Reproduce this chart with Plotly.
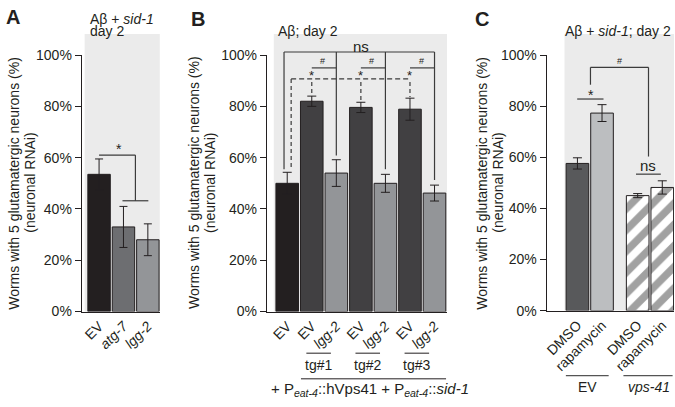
import plotly.graph_objects as go

# values: % worms with 5 glutamatergic neurons, mean and error
a_labels = ["EV", "<i>atg-7</i>", "<i>lgg-2</i>"]
a_values = [53.5, 33.0, 28.0]
a_errors = [6.0, 8.0, 6.2]

b_labels = ["EV", "EV", "<i>lgg-2</i>", "EV", "<i>lgg-2</i>", "EV", "<i>lgg-2</i>"]
b_values = [50.0, 82.0, 54.0, 79.6, 50.0, 78.9, 46.2]
b_errors = [4.3, 2.0, 5.2, 2.0, 3.5, 4.3, 3.1]
b_groups = ["tg#1", "tg#2", "tg#3"]

c_labels = ["DMSO", "rapamycin", "DMSO", "rapamycin"]
c_values = [57.6, 77.3, 45.0, 48.2]
c_errors = [2.2, 3.3, 0.8, 2.6]
c_groups = ["EV", "<i>vps-41</i>"]

y_ticks = [0, 20, 40, 60, 80, 100]
y_ticktext = ["0%", "20%", "40%", "60%", "80%", "100%"]

W, H = 675, 407
INK = "#231f20"
BG = "#ebebeb"
FONT = "Liberation Sans, Arial, sans-serif"

# bar slots on each x axis
a_pos = [0, 1, 2]
b_pos = list(range(7))
c_pos = [0, 1, 2.45, 3.45]

# panel boxes in pixels: x span, x data range, rows of 0% and 100%
geo = {
    "a": dict(x=(79, 158), r=(-0.714, 2.51), y=(316, 49)),
    "b": dict(x=(265, 446), r=(-0.831, 6.509), y=(316, 49)),
    "c": dict(x=(546, 674), r=(-1.255, 3.927), y=(315, 49)),
}


def px(p, xv):
    g = geo[p]
    f = (xv - g["r"][0]) / (g["r"][1] - g["r"][0])
    return (g["x"][0] + f * (g["x"][1] - g["x"][0])) / W


def py(p, v):
    g = geo[p]
    return 1 - (g["y"][0] + v / 100 * (g["y"][1] - g["y"][0])) / H


shapes = []
annots = []


def seg(x0, y0, x1, y1, dash=None, color="#3b3b3b", width=1.2):
    shapes.append(dict(type="line", xref="paper", yref="paper", x0=x0, y0=y0, x1=x1, y1=y1,
                       line=dict(color=color, width=width, dash=dash)))


def bracket(p, pts, dash=None):
    for (xa, va), (xb, vb) in zip(pts[:-1], pts[1:]):
        seg(px(p, xa), py(p, va), px(p, xb), py(p, vb), dash)


def text(x, y, s, size=14, xanchor="center", yanchor="middle", angle=0, bold=False):
    annots.append(dict(x=x, y=y, xref="paper", yref="paper", text=s, showarrow=False,
                       xanchor=xanchor, yanchor=yanchor, textangle=angle,
                       font=dict(size=size, color=INK, family=FONT,
                                 weight="bold" if bold else "normal")))


def pxl(x):
    return x / W


def pyl(y):
    return 1 - y / H


# gray backgrounds
for x0, x1, y1 in [(82, 157.5, 316), (272, 446, 316), (564, 674, 315)]:
    shapes.append(dict(type="rect", xref="paper", yref="paper", x0=pxl(x0), x1=pxl(x1),
                       y0=pyl(y1), y1=pyl(27), fillcolor=BG, line=dict(width=0), layer="below"))

fig = go.Figure()

err = dict(type="data", color=INK, thickness=1, width=4)

fig.add_trace(go.Bar(
    x=a_pos, y=a_values, error_y=dict(err, array=a_errors),
    marker=dict(color=["#231f20", "#6d6e71", "#939598"], line=dict(color=INK, width=1)),
    xaxis="x", yaxis="y"))

fig.add_trace(go.Bar(
    x=b_pos, y=b_values, error_y=dict(err, array=b_errors, width=4.5),
    marker=dict(color=["#231f20"] + ["#414042", "#939598"] * 3, line=dict(color=INK, width=1)),
    xaxis="x2", yaxis="y2"))

fig.add_trace(go.Bar(
    x=c_pos, y=c_values, error_y=dict(err, array=c_errors, width=4.5),
    marker=dict(color=["#58595b", "#bcbec0", "white", "white"],
                line=dict(color=INK, width=1),
                pattern=dict(shape=["", "", "/", "/"],
                             fgcolor=["#58595b", "#bcbec0", "#58595b", "#bcbec0"],
                             size=15, solidity=0.5)),
    xaxis="x3", yaxis="y3"))


def yax(p, anchor):
    g = geo[p]
    return dict(domain=[1 - g["y"][0] / H, 1 - g["y"][1] / H], range=[0, 100],
                tickvals=y_ticks, ticktext=y_ticktext, ticks="outside", ticklen=6, tickcolor=INK,
                showline=True, linecolor=INK, linewidth=1, showgrid=False, zeroline=False,
                tickfont=dict(size=14, color=INK), anchor=anchor)


def xax(p, pos, labels, anchor):
    g = geo[p]
    return dict(domain=[g["x"][0] / W, g["x"][1] / W], range=list(g["r"]),
                tickvals=pos, ticktext=labels, tickangle=-45, ticks="",
                showline=True, linecolor=INK, linewidth=1, showgrid=False, zeroline=False,
                tickfont=dict(size=14, color=INK), anchor=anchor)


# --- panel A annotations ---
bracket("a", [(0, 61), (1.49, 61), (1.49, 43.2)])
bracket("a", [(0.96, 43.2), (2.02, 43.2)])
text(px("a", 0.8), py("a", 63.5), "*", 14)

# --- panel B annotations ---
ns_y = 101.2
bracket("b", [(-0.13, 55.5), (-0.13, ns_y), (6.0, ns_y)])
for i, dy in [(2, 60.8), (4, 55.5), (6, 51.3)]:
    bracket("b", [(i, ns_y), (i, dy)])
text(px("b", 3.0), py("b", 103.5), "ns", 15)
bracket("b", [(0.16, 90.7), (5.0, 90.7)], dash="5px,3px")
bracket("b", [(0.16, 90.7), (0.16, 55.3)], dash="4px,3px")
for i in [1, 3, 5]:
    bracket("b", [(i, 95), (i + 1, 95)])
    text(px("b", i + 0.45), py("b", 97.6), "#", 9)
    text(px("b", i), py("b", 92.0), "*", 13)
    bracket("b", [(i, 89.5), (i, b_values[i] + b_errors[i] + 0.5)], dash="4px,3px")
for k, i in enumerate([1, 3, 5]):
    seg(px("b", i - 0.22), pyl(359.3), px("b", i + 0.78), pyl(359.3), color=INK, width=1)
    text(px("b", i + 0.28), pyl(371.7), b_groups[k], 14)
seg(px("b", 0.56), pyl(386), px("b", 6.47), pyl(386), color=INK, width=1)
text(px("b", 3.39), pyl(397),
     "+ P<sub><i>eat-4</i></sub>::hVps41 + P<sub><i>eat-4</i></sub>::<i>sid-1</i>", 15)

# --- panel C annotations ---
bracket("c", [(-0.01, 82.8), (1.06, 82.8)])
text(px("c", 0.55), py("c", 84.5), "*", 14)
bracket("c", [(0.53, 88.4), (0.53, 95.2), (2.89, 95.2), (2.89, 60.3)])
text(px("c", 1.71), py("c", 97.8), "#", 9)
bracket("c", [(2.38, 53.4), (3.39, 53.4)])
text(px("c", 2.88), py("c", 56.6), "ns", 15)
seg(px("c", -0.47), pyl(382.7), px("c", 1.27), pyl(382.7), color="#555555", width=1.3)
seg(px("c", 1.87), pyl(382.7), px("c", 3.87), pyl(382.7), color="#555555", width=1.3)
text(px("c", 0.39), pyl(394.5), c_groups[0], 14)
text(px("c", 2.89), pyl(394.5), c_groups[1], 14)

# --- titles, panel letters, y titles ---
text(pxl(1), pyl(9), "A", 20, xanchor="left", bold=True)
text(pxl(187), pyl(11), "B", 20, xanchor="left", bold=True)
text(pxl(472), pyl(11), "C", 20, xanchor="left", bold=True)
text(pxl(85), pyl(11), "Aβ + <i>sid-1</i>", 14, xanchor="left")
text(pxl(85), pyl(23.5), "day 2", 14, xanchor="left")
text(pxl(274), pyl(23.5), "Aβ; day 2", 14, xanchor="left")
text(pxl(563), pyl(24), "Aβ + <i>sid-1</i>; day 2", 14, xanchor="left")
for x1, x2 in [(11, 27), (192, 208), (481, 497)]:
    text(pxl(x1), pyl(182), "Worms with 5 glutamatergic neurons (%)", 14, angle=-90)
    text(pxl(x2), pyl(182), "(neuronal RNAi)", 14, angle=-90)

fig.update_layout(
    width=W, height=H, autosize=False,
    margin=dict(l=0, r=0, t=0, b=0),
    paper_bgcolor="white", plot_bgcolor="rgba(0,0,0,0)",
    showlegend=False, bargap=0.08,
    font=dict(family=FONT, color=INK),
    xaxis=xax("a", a_pos, a_labels, "y"), yaxis=yax("a", "x"),
    xaxis2=xax("b", b_pos, b_labels, "y2"), yaxis2=yax("b", "x2"),
    xaxis3=xax("c", c_pos, c_labels, "y3"), yaxis3=yax("c", "x3"),
    shapes=shapes, annotations=annots,
)

# drop the browser's default 8px body margin so the figure sits at the page corner
fig.write_html("out.html", config={"displayModeBar": False},
               post_script="document.body.style.margin='0';document.body.style.overflow='hidden';")
